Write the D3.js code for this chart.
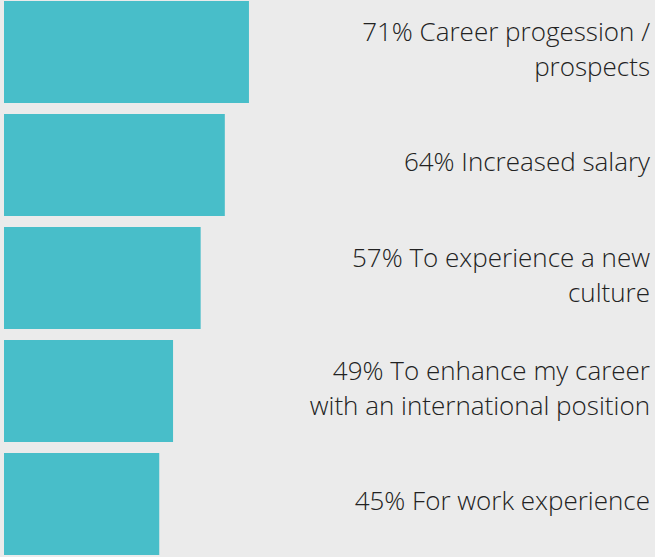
<!DOCTYPE html>
<html>
<head>
<meta charset="utf-8">
<script src="https://cdn.jsdelivr.net/npm/d3@7"></script>
<style>
  body { margin: 0; background: #ebebeb; }
  svg { display: block; }
</style>
</head>
<body>
<div id="chart"></div>
<script>
var svgWidth = 655;
var svgHeight = 557;

// data
var values = [71, 64, 57, 49, 45];
var labels = [
  ["71% Career progession /", "prospects"],
  ["64% Increased salary"],
  ["57% To experience a new", "culture"],
  ["49% To enhance my career", "with an international position"],
  ["45% For work experience"]
];

var svg = d3.select("#chart")
  .append("svg")
  .attr("width", svgWidth)
  .attr("height", svgHeight);

svg.append("rect")
  .attr("width", svgWidth)
  .attr("height", svgHeight)
  .attr("fill", "#ebebeb");

var xScale = d3.scaleLinear()
  .domain([0, 100])
  .range([4, 349]);

var yScale = d3.scaleBand()
  .domain(d3.range(values.length))
  .range([1, 555])
  .paddingInner(11 / 113)
  .paddingOuter(0);

svg.selectAll(".bar")
  .data(values)
  .enter()
  .append("rect")
  .attr("class", "bar")
  .attr("x", xScale(0))
  .attr("y", (d, i) => yScale(i))
  .attr("width", d => xScale(d) - xScale(0))
  .attr("height", yScale.bandwidth())
  .attr("fill", "#48bec9");

var lineHeight = 35;

var labelGroup = svg.selectAll(".label")
  .data(labels)
  .enter()
  .append("text")
  .attr("class", "label")
  .attr("text-anchor", "end")
  .attr("font-family", "'Open Sans', sans-serif")
  .attr("font-weight", 300)
  .attr("font-size", 26)
  .attr("fill", "#222");

labelGroup.each(function(lines, i) {
  var mid = yScale(i) + yScale.bandwidth() / 2 - 3;
  var first = mid - (lines.length - 1) * lineHeight / 2 + 9;
  d3.select(this).selectAll("tspan")
    .data(lines)
    .enter()
    .append("tspan")
    .attr("x", 650)
    .attr("y", (d, j) => first + j * lineHeight)
    .text(d => d);
});
</script>
</body>
</html>
